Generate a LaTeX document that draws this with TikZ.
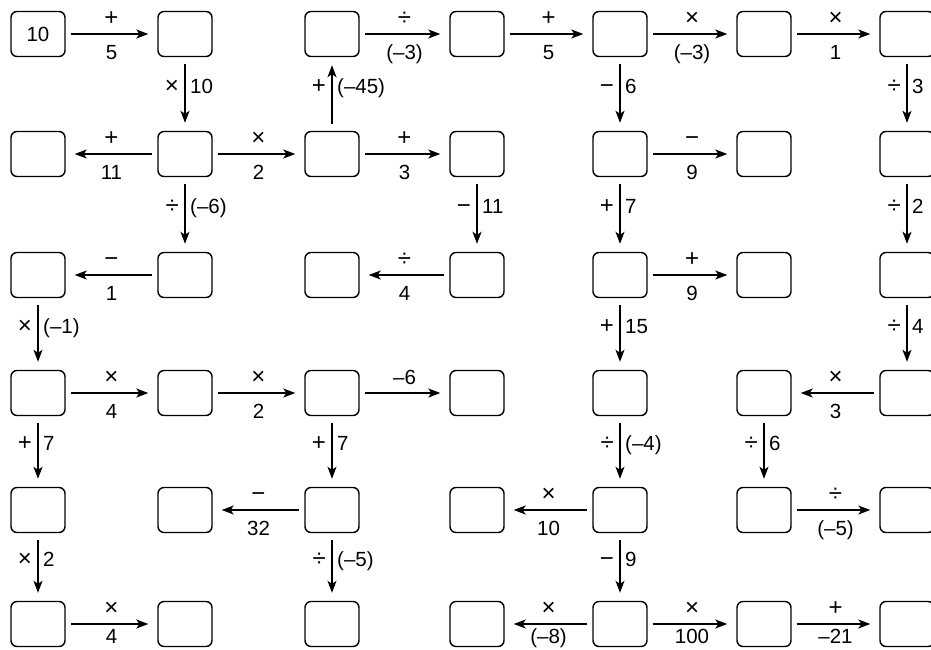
\documentclass[tikz,border=0pt]{standalone}
\usepackage{fontspec}
\setmainfont{Liberation Sans}
\usetikzlibrary{arrows.meta,calc}
\newcommand\belowoff{18}
\newcommand\HOp[4]{%
  \draw[harr] (#1) -- (#2);
  \node[lab, oplab, name=#1#2a] at ($(#1)!0.5!(#2)+(0,-16)$) {#3};
  \node[lab, name=#1#2b] at ($(#1)!0.5!(#2)+(0,\belowoff)$) {#4};}
\newcommand\VOp[4]{%
  \draw[varr] (#1) -- (#2);
  \node[lab, oplab, anchor=east, name=#1#2a] at ($(#1)!0.5!(#2)+(-6,-8)$) {#3};
  \node[lab, anchor=west, name=#1#2b] at ($(#1)!0.5!(#2)+(5,-8)$) {#4};}
\begin{document}
\begin{tikzpicture}[x=1pt,y=-1pt,
  box/.style={draw, line width=1.4pt, rounded corners=6pt, minimum width=54pt,
    minimum height=45pt, inner sep=0pt, font=\fontsize{20.5}{24}\selectfont},
  arr/.style={line width=1.3pt, -{Stealth[length=12pt,width=9pt,inset=3pt]}},
  harr/.style={arr, shorten <=5pt, shorten >=9pt},
  varr/.style={arr, shorten <=7pt, shorten >=8pt},
  lab/.style={inner sep=0pt, text height=14.5pt, text depth=0pt,
    font=\fontsize{20.5}{24}\selectfont},
  oplab/.style={font=\fontsize{24}{28}\selectfont}]
\useasboundingbox[fill=white] (0,0) rectangle (931,650);
\foreach \r/\y in {1/34,2/154,3/275,4/393,5/510,6/624}{
  \foreach \c/\x in {1/38,2/185,3/332,4/477,5/620,6/764,7/907}{
    \ifnum\r\c=11
      \node[box] (r\r c\c) at (\x,\y) {10};
    \else
      \node[box] (r\r c\c) at (\x,\y) {};
    \fi
  }}
% row 1
\HOp{r1c1}{r1c2}{+}{5}
\HOp{r1c3}{r1c4}{÷}{(–3)}
\HOp{r1c4}{r1c5}{+}{5}
\HOp{r1c5}{r1c6}{×}{(–3)}
\HOp{r1c6}{r1c7}{×}{1}
\VOp{r1c2}{r2c2}{×}{10}
\VOp{r2c3}{r1c3}{+}{(–45)}
\VOp{r1c5}{r2c5}{−}{6}
\VOp{r1c7}{r2c7}{÷}{3}
% row 2
\HOp{r2c2}{r2c1}{+}{11}
\HOp{r2c2}{r2c3}{×}{2}
\HOp{r2c3}{r2c4}{+}{3}
\HOp{r2c5}{r2c6}{−}{9}
\VOp{r2c2}{r3c2}{÷}{(–6)}
\VOp{r2c4}{r3c4}{−}{11}
\VOp{r2c5}{r3c5}{+}{7}
\VOp{r2c7}{r3c7}{÷}{2}
% row 3
\HOp{r3c2}{r3c1}{−}{1}
\HOp{r3c4}{r3c3}{÷}{4}
\HOp{r3c5}{r3c6}{+}{9}
\VOp{r3c1}{r4c1}{×}{(–1)}
\VOp{r3c5}{r4c5}{+}{15}
\VOp{r3c7}{r4c7}{÷}{4}
% row 4
\HOp{r4c1}{r4c2}{×}{4}
\HOp{r4c2}{r4c3}{×}{2}
\draw[harr] (r4c3) -- (r4c4);
\node[lab, name=r4c3r4c4a] at ($(r4c3)!0.5!(r4c4)+(0,-16)$) {–6};
\HOp{r4c7}{r4c6}{×}{3}
\VOp{r4c1}{r5c1}{+}{7}
\VOp{r4c3}{r5c3}{+}{7}
\VOp{r4c5}{r5c5}{÷}{(–4)}
\VOp{r4c6}{r5c6}{÷}{6}
% row 5
\HOp{r5c3}{r5c2}{−}{32}
\HOp{r5c5}{r5c4}{×}{10}
\HOp{r5c6}{r5c7}{÷}{(–5)}
\VOp{r5c1}{r6c1}{×}{2}
\VOp{r5c3}{r6c3}{÷}{(–5)}
\VOp{r5c5}{r6c5}{−}{9}
% row 6
\renewcommand\belowoff{12}
\HOp{r6c1}{r6c2}{×}{4}
\HOp{r6c5}{r6c4}{×}{(–8)}
\HOp{r6c5}{r6c6}{×}{100}
\HOp{r6c6}{r6c7}{+}{–21}
\end{tikzpicture}
\end{document}
